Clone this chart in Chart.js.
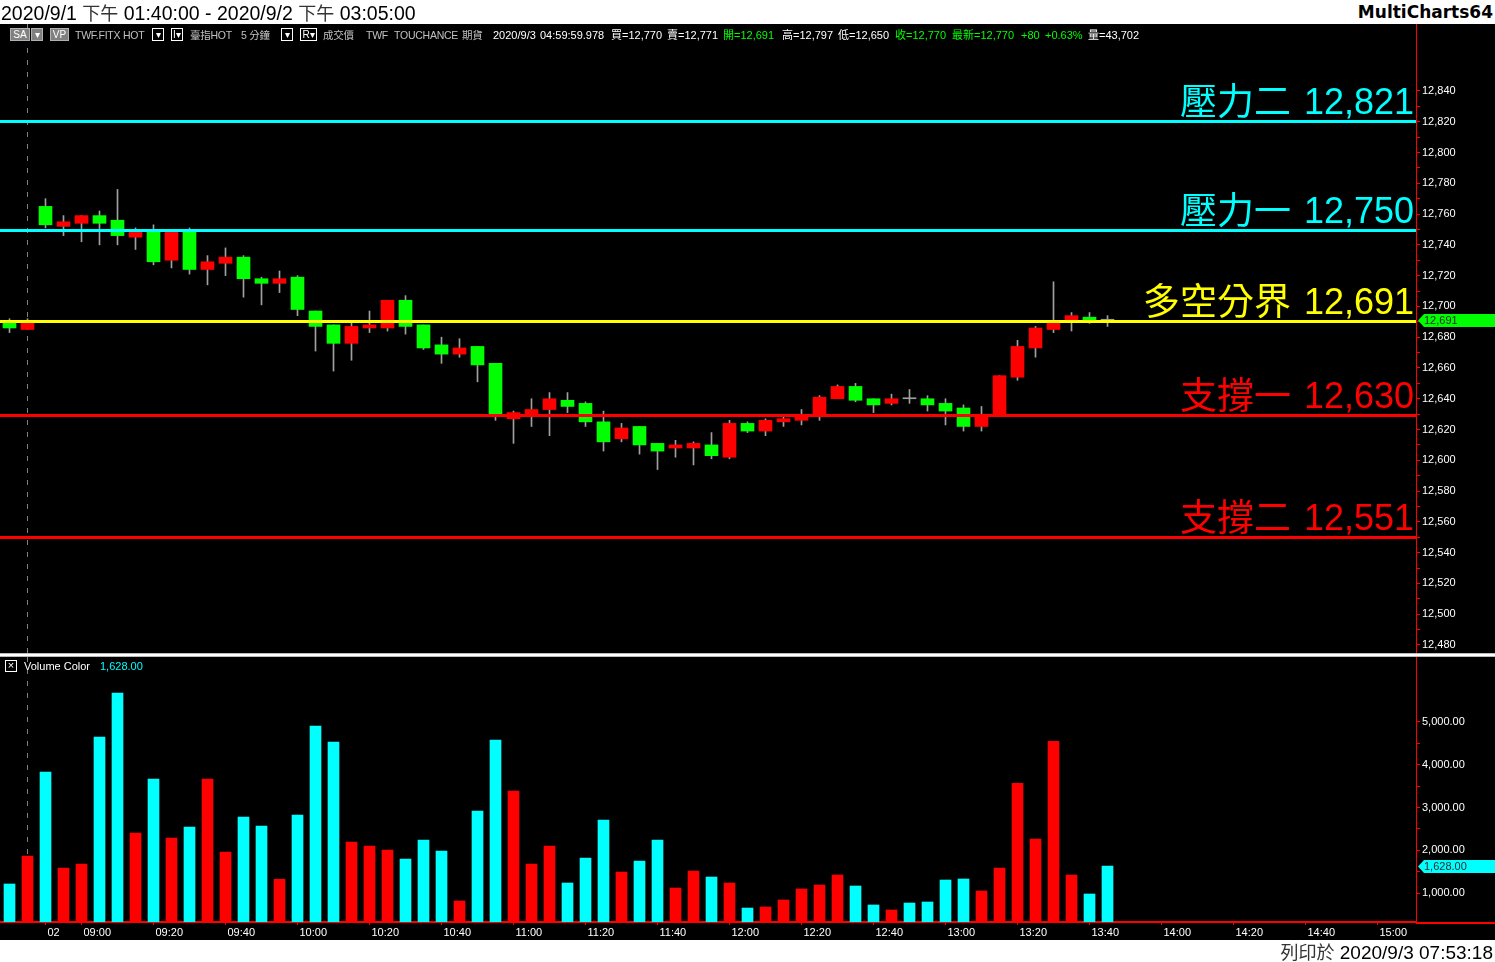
<!DOCTYPE html>
<html>
<head>
<meta charset="utf-8">
<title>臺指HOT 5分鐘</title>
<script src="https://cdn.jsdelivr.net/npm/chart.js@4.4.1/dist/chart.umd.min.js"></script>
<style>
  html, body { margin:0; padding:0; width:1495px; height:962px; overflow:hidden; background:#fff;
    font-family:"Liberation Sans", Arial, "Noto Sans CJK TC", sans-serif; }
  .abs { position:absolute; white-space:pre; }
  .cjk { font-family:"Noto Sans CJK TC", sans-serif; }
  #frame { position:absolute; left:0; top:24px; width:1495px; height:916px; background:#000; }
  #priceCanvas { position:absolute; left:0; top:24px; }
  #volCanvas { position:absolute; left:0; top:657px; }
  #sep { position:absolute; left:0; top:653px; width:1495px; height:4px;
    background:linear-gradient(#8a8a8a, #fff 30%, #fff 70%, #8a8a8a); }
  #title { left:1px; top:0; font-size:19.5px; line-height:24px; color:#000; }
  #title .cjk, #printed .cjk { color:#333; font-size:18px; }
  #brand { right:2px; top:0; font-size:17px; line-height:24px; font-weight:bold; font-family:"DejaVu Sans", sans-serif; color:#000; }
  #printed { right:2px; top:940px; font-size:19px; line-height:22px; color:#000; }
  .info { top:28px; font-size:11px; line-height:14px; color:#fff; }
  .g { color:#c0c0c0; font-size:10.5px; letter-spacing:-0.25px; }
  .gr { color:#00ff00; }
  .box { top:28px; height:13px; font-size:10px; line-height:11px; text-align:center; box-sizing:border-box; }
  .boxf { background:#808080; color:#fff; border:1px solid #b0b0b0; }
  .boxo { border:1px solid #fff; color:#fff; background:#000; }
  .leg { top:660px; font-size:11px; line-height:12px; color:#fff; }
</style>
</head>
<body>
<div id="frame"></div>
<canvas id="priceCanvas" width="1495" height="629"></canvas>
<div id="sep"></div>
<canvas id="volCanvas" width="1495" height="283"></canvas>

<div id="title" class="abs">2020/9/1 <span class="cjk">下午</span> 01:40:00 - 2020/9/2 <span class="cjk">下午</span> 03:05:00</div>
<div id="brand" class="abs">MultiCharts64</div>
<div id="printed" class="abs"><span class="cjk">列印於</span> 2020/9/3 07:53:18</div>

<!-- status bar -->
<div class="abs box boxf" style="left:10px;width:20px">SA</div>
<div class="abs box boxf" style="left:31px;width:12px">▾</div>
<div class="abs box boxf" style="left:50px;width:19px">VP</div>
<div class="abs info g" style="left:75px">TWF.FITX HOT</div>
<div class="abs box boxo" style="left:152px;width:12px">▾</div>
<div class="abs box boxo" style="left:171px;width:12px">I▾</div>
<div class="abs info g" style="left:190px">臺指HOT</div>
<div class="abs info g" style="left:241px">5 分鐘</div>
<div class="abs box boxo" style="left:281px;width:12px">▾</div>
<div class="abs box boxo" style="left:300px;width:17px">R▾</div>
<div class="abs info g" style="left:323px">成交價</div>
<div class="abs info g" style="left:366px">TWF</div>
<div class="abs info g" style="left:394px">TOUCHANCE</div>
<div class="abs info g" style="left:462px">期貨</div>
<div class="abs info" style="left:493px">2020/9/3</div>
<div class="abs info" style="left:540px">04:59:59.978</div>
<div class="abs info" style="left:611px">買=12,770</div>
<div class="abs info" style="left:667px">賣=12,771</div>
<div class="abs info gr" style="left:723px">開=12,691</div>
<div class="abs info" style="left:782px">高=12,797</div>
<div class="abs info" style="left:838px">低=12,650</div>
<div class="abs info gr" style="left:895px">收=12,770</div>
<div class="abs info gr" style="left:952px">最新=12,770</div>
<div class="abs info gr" style="left:1021px">+80</div>
<div class="abs info gr" style="left:1045px">+0.63%</div>
<div class="abs info" style="left:1088px">量=43,702</div>

<!-- volume legend -->
<div class="abs" style="left:5px;top:660px;width:12px;height:12px;box-sizing:border-box;border:1px solid #fff;color:#fff;font-size:11px;line-height:9px;text-align:center">×</div>
<div class="abs leg" style="left:24px">Volume Color</div>
<div class="abs leg" style="left:100px;color:#00ffff">1,628.00</div>

<script>
// ---------------- data (5 min bars, 2020/9/1 13:40 -> 2020/9/2 13:45) ----------------
const barTimes = ['13:40','13:45',
  '08:50','08:55','09:00','09:05','09:10','09:15','09:20','09:25','09:30','09:35',
  '09:40','09:45','09:50','09:55','10:00','10:05','10:10','10:15','10:20','10:25',
  '10:30','10:35','10:40','10:45','10:50','10:55','11:00','11:05','11:10','11:15',
  '11:20','11:25','11:30','11:35','11:40','11:45','11:50','11:55','12:00','12:05',
  '12:10','12:15','12:20','12:25','12:30','12:35','12:40','12:45','12:50','12:55',
  '13:00','13:05','13:10','13:15','13:20','13:25','13:30','13:35','13:40','13:45'];

const opens  = [12689,12685,12765,12752,12754,12759,12756,12745,12750,12730,
                12750,12724,12728,12732,12718,12715,12719,12697,12688,12676,
                12686,12686,12704,12688,12675,12669,12674,12663,12627,12629,
                12633,12639,12637,12625,12614,12622,12611,12608,12608,12610,
                12602,12624,12619,12625,12626,12630,12640,12648,12640,12637,
                12640,12640,12637,12634,12622,12629,12654,12673,12685,12691,
                12693,12691];
const highs  = [12692,12692,12770,12759,12759,12762,12776,12751,12753,12750,
                12751,12733,12738,12733,12719,12723,12720,12697,12688,12689,
                12697,12704,12707,12688,12680,12679,12674,12663,12632,12640,
                12644,12644,12638,12632,12624,12622,12611,12613,12612,12618,
                12626,12625,12627,12629,12633,12642,12649,12650,12640,12643,
                12646,12642,12640,12636,12635,12655,12678,12687,12716,12696,
                12696,12694];
const lows   = [12683,12685,12751,12746,12742,12740,12740,12737,12727,12725,
                12721,12714,12720,12706,12701,12709,12694,12671,12658,12665,
                12683,12684,12682,12672,12663,12667,12651,12626,12611,12622,
                12616,12631,12622,12606,12612,12604,12594,12602,12597,12601,
                12601,12618,12616,12622,12623,12626,12640,12638,12631,12636,
                12637,12632,12623,12619,12619,12629,12652,12667,12683,12684,
                12689,12687];
const closes = [12686,12689,12753,12755,12759,12754,12746,12749,12729,12750,
                12724,12729,12732,12718,12715,12718,12698,12687,12676,12687,
                12688,12704,12687,12673,12669,12673,12662,12630,12631,12633,
                12640,12635,12625,12612,12621,12610,12606,12610,12611,12603,
                12624,12619,12626,12627,12629,12641,12648,12639,12636,12640,
                12640,12636,12632,12622,12629,12655,12674,12686,12689,12694,
                12691,12691];
const volumes = [1211,1866,3830,1585,1678,4649,5678,2404,3667,2287,
                 2544,3667,1959,2778,2567,1322,2825,4906,4532,2193,
                 2099,2006,1795,2240,1982, 813,2918,4579,3386,1678,
                 2099,1234,1819,2708,1491,1749,2240,1117,1515,1374,
                 1234, 649, 673, 837,1094,1187,1421,1164, 720, 603,
                  766, 790,1304,1328,1047,1585,3567,2263,4550,1421,
                  977,1628];

const levelValues = [12821, 12750, 12691, 12630, 12551];
const levelNames  = ['壓力二', '壓力一', '多空分界', '支撐一', '支撐二'];

const priceTicks  = [12480,12500,12520,12540,12560,12580,12600,12620,12640,12660,
                     12680,12700,12720,12740,12760,12780,12800,12820,12840];
const volumeTicks = [1000,2000,3000,4000,5000];
const xTickPos  = [2,4,8,12,16,20,24,28,32,36,40,44,48,52,56,60,64,68,72,76];
const xTickText = ['02','09:00','09:20','09:40','10:00','10:20','10:40','11:00','11:20','11:40',
                   '12:00','12:20','12:40','13:00','13:20','13:40','14:00','14:20','14:40','15:00'];
const sessionBreak = 1;   // index of the 9/1 -> 9/2 separator

// ---------------- view ----------------
const X_MIN = -0.5278, X_MAX = 78.1389;     // axis runs on to 15:05
const P_MIN = 12474.8, P_MAX = 12883.5;
const V_MIN = 322, V_MAX = 6520;
const AXIS_W = 79;
const FONT = '"Liberation Sans", Arial, sans-serif';
const levelColors = ['#00ffff', '#00ffff', '#ffff00', '#ff0000', '#ff0000'];

const last = closes.length - 1;
const bodyColor = i => closes[i] > opens[i] ? '#ff0000' : closes[i] < opens[i] ? '#00ff00' : '#a0a0a0';
const volColor = i => closes[i] > opens[i] ? '#ff0000' : '#00ffff';

// major ticks plus a half step mark between them
function withMinor(arr) {
    const out = [];
    arr.forEach((v, i) => {
        out.push(v);
        if (i < arr.length - 1) out.push((v + arr[i + 1]) / 2);
    });
    return out;
}

function xAxis(show) {
    return {
        type: 'linear', min: X_MIN, max: X_MAX, display: show, offset: false, bounds: 'data',
        afterBuildTicks: s => { s.ticks = xTickPos.map(v => ({ value: v })); },
        ticks: {
            color: '#fff', font: { family: FONT, size: 11 }, align: 'start', labelOffset: 2,
            padding: 1, maxRotation: 0, autoSkip: false,
            callback: v => xTickText[xTickPos.indexOf(v)]
        },
        grid: { drawOnChartArea: false, offset: false, color: '#ff0000', tickLength: 3 },
        border: { color: '#ff0000', width: 2 },
        afterFit: s => {
            s.height = show ? 18 : 0;
            s.paddingLeft = 0;
            s.paddingRight = 0;
        }
    };
}

function yAxis(min, max, major, fmt) {
    return {
        position: 'right', min: min, max: max, bounds: 'data',
        afterBuildTicks: s => { s.ticks = withMinor(major).map(v => ({ value: v })); },
        ticks: {
            color: '#fff', font: { family: FONT, size: 11 }, padding: 2, crossAlign: 'near',
            autoSkip: false, callback: v => major.includes(v) ? fmt(v) : ''
        },
        grid: { drawOnChartArea: false, color: '#ff0000', tickLength: 4 },
        border: { color: '#ff0000', width: 1 },
        afterFit: s => { s.width = AXIS_W; s.paddingTop = 0; s.paddingBottom = 0; }
    };
}

function dashedBreak(chart) {
    const { ctx, chartArea: a, scales: { x } } = chart;
    const px = Math.floor(x.getPixelForValue(sessionBreak)) + 0.5;
    ctx.save();
    ctx.strokeStyle = '#808080';
    ctx.lineWidth = 1;
    ctx.setLineDash([5, 7]);
    ctx.beginPath();
    ctx.moveTo(px, a.top);
    ctx.lineTo(px, a.bottom);
    ctx.stroke();
    ctx.restore();
}

function marker(chart, value, color, text) {
    const { ctx, chartArea: a, scales: { y } } = chart;
    const py = Math.round(y.getPixelForValue(value)) + 0.5;
    ctx.save();
    ctx.fillStyle = color;
    ctx.beginPath();
    ctx.moveTo(a.right + 2, py);
    ctx.lineTo(a.right + 8, py - 6.5);
    ctx.lineTo(chart.width, py - 6.5);
    ctx.lineTo(chart.width, py + 6.5);
    ctx.lineTo(a.right + 8, py + 6.5);
    ctx.closePath();
    ctx.fill();
    ctx.fillStyle = '#2b2b2b';
    ctx.font = '11px ' + FONT;
    ctx.textAlign = 'left';
    ctx.textBaseline = 'middle';
    ctx.fillText(text, a.right + 8, py + 0.5);
    ctx.restore();
}

const levelPlugin = {
    id: 'levels',
    beforeDatasetsDraw: dashedBreak,
    afterDatasetsDraw(chart) {
        const { ctx, chartArea: a, scales: { y } } = chart;
        ctx.save();
        ctx.textAlign = 'right';
        ctx.textBaseline = 'alphabetic';
        levelValues.forEach((v, i) => {
            const py = Math.round(y.getPixelForValue(v));
            ctx.fillStyle = levelColors[i];
            ctx.fillRect(a.left, py, a.right - a.left, 3);
            const num = v.toLocaleString('en-US');
            ctx.font = '36px ' + FONT;
            ctx.fillText(num, a.right - 2, py - 6);
            const w = ctx.measureText(num).width;
            ctx.font = '37px "Noto Sans CJK TC", sans-serif';
            ctx.fillText(levelNames[i], a.right - 2 - w - 13, py - 5);
        });
        ctx.restore();
    },
    afterDraw: chart => marker(chart, closes[last], '#00ff00', closes[last].toLocaleString('en-US'))
};

const volumePlugin = {
    id: 'volumeDeco',
    beforeDatasetsDraw: dashedBreak,
    afterDraw(chart) {
        const { ctx, chartArea: a } = chart;
        ctx.fillStyle = '#ff0000';
        ctx.fillRect(a.right, a.bottom, chart.width - a.right, 2);
        marker(chart, volumes[last], '#00ffff',
            volumes[last].toLocaleString('en-US', { minimumFractionDigits: 2 }));
    }
};

const common = {
    responsive: false,
    animation: false,
    events: [],
    layout: { padding: 0 },
    plugins: { legend: { display: false }, tooltip: { enabled: false } }
};

new Chart(document.getElementById('priceCanvas'), {
    type: 'bar',
    data: {
        datasets: [
            {
                label: 'wick',
                data: barTimes.map((t, i) => ({ x: i, y: [lows[i], highs[i]] })),
                backgroundColor: '#a0a0a0',
                barThickness: 1, minBarLength: 1, grouped: false, order: 2
            },
            {
                label: 'body',
                data: barTimes.map((t, i) => ({ x: i, y: [opens[i], closes[i]] })),
                backgroundColor: barTimes.map((t, i) => bodyColor(i)),
                barThickness: 13, minBarLength: 1, grouped: false, order: 1
            }
        ]
    },
    options: {
        ...common,
        scales: {
            x: xAxis(false),
            y: yAxis(P_MIN, P_MAX, priceTicks, v => v.toLocaleString('en-US'))
        }
    },
    plugins: [levelPlugin]
});

new Chart(document.getElementById('volCanvas'), {
    type: 'bar',
    data: {
        datasets: [{
            label: 'Volume Color',
            data: barTimes.map((t, i) => ({ x: i, y: volumes[i] })),
            backgroundColor: barTimes.map((t, i) => volColor(i)),
            barThickness: 11, grouped: false
        }]
    },
    options: {
        ...common,
        scales: {
            x: xAxis(true),
            y: yAxis(V_MIN, V_MAX, volumeTicks, v => v.toLocaleString('en-US', { minimumFractionDigits: 2 }))
        }
    },
    plugins: [volumePlugin]
});
</script>
</body>
</html>
